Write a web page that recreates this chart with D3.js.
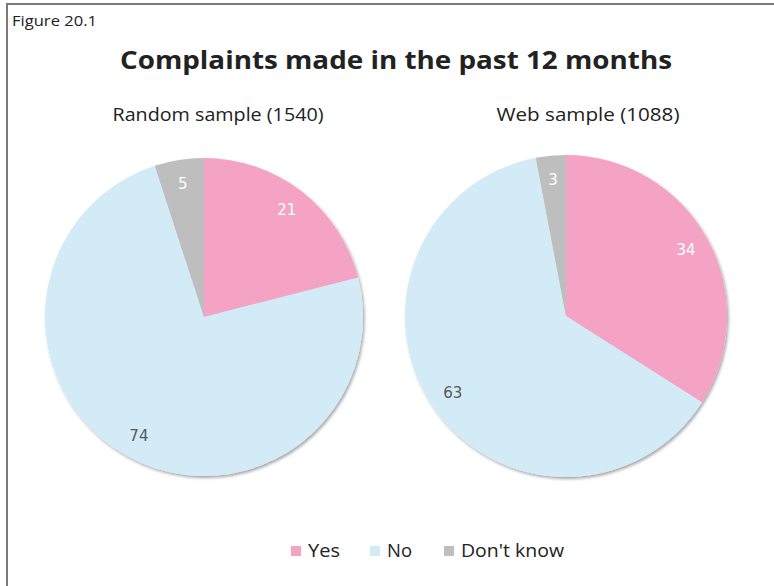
<!DOCTYPE html>
<html><head><meta charset="utf-8">
<script src="https://cdn.jsdelivr.net/npm/d3@7"></script>
<style>body{margin:0;background:#fff}svg{display:block}</style>
</head><body>
<script>
const categories = ["Yes", "No", "Don't know"];
const randomValues = [21, 74, 5];
const webValues = [34, 63, 3];
const sampleTitles = ["Random sample (1540)", "Web sample (1088)"];
const colors = ["#F4A3C5", "#D3EBF7", "#BEBEBE"];
const labelColors = ["#ffffff", "#595959", "#ffffff"];

const W = 774, H = 586;
const font = "'Open Sans', Lato, sans-serif";
const svg = d3.select("body").append("svg").attr("width", W).attr("height", H);

const defs = svg.append("defs");
const f = defs.append("filter").attr("id","sh").attr("x","-20%").attr("y","-20%").attr("width","140%").attr("height","140%");
f.append("feDropShadow").attr("dx",1.5).attr("dy",2).attr("stdDeviation",1.5).attr("flood-color","#000").attr("flood-opacity",0.35);

svg.append("rect").attr("x",7).attr("y",4).attr("width",W).attr("height",H)
  .attr("fill","#fff").attr("stroke","#7a7a7a").attr("stroke-width",2);

svg.append("text").attr("x",12).attr("y",26).attr("font-family",font).attr("font-size",15)
  .attr("fill","#222").attr("textLength",85).attr("lengthAdjust","spacingAndGlyphs").text("Figure 20.1");
svg.append("text").attr("x",396).attr("y",69).attr("text-anchor","middle").attr("font-family",font)
  .attr("font-size",25).attr("font-weight","bold").attr("fill","#222")
  .attr("textLength",552).attr("lengthAdjust","spacingAndGlyphs").text("Complaints made in the past 12 months");

const pies = [
  {values: randomValues, title: sampleTitles[0], cx: 204, cy: 317, r: 159, tx: 218, tw: 211},
  {values: webValues, title: sampleTitles[1], cx: 566, cy: 316, r: 161, tx: 588, tw: 183}
];
const pie = d3.pie().sort(null).value(d => d);
pies.forEach(p => {
  svg.append("text").attr("x",p.tx).attr("y",121).attr("text-anchor","middle").attr("font-family",font)
    .attr("font-size",18).attr("fill","#222")
    .attr("textLength",p.tw).attr("lengthAdjust","spacingAndGlyphs").text(p.title);
  const g = svg.append("g").attr("transform",`translate(${p.cx},${p.cy})`);
  const arcs = pie(p.values);
  const arc = d3.arc().innerRadius(0).outerRadius(p.r);
  const lab = d3.arc().innerRadius(p.r*0.85).outerRadius(p.r*0.85);
  g.append("g").attr("filter","url(#sh)").selectAll("path").data(arcs).join("path")
    .attr("d",arc).attr("fill",(d,i)=>colors[i]);
  g.selectAll("text").data(arcs).join("text")
    .attr("transform",d=>`translate(${lab.centroid(d)})`)
    .attr("text-anchor","middle").attr("dy","0.35em")
    .attr("font-family","'DejaVu Sans', Verdana, sans-serif").attr("font-size",15)
    .attr("fill",(d,i)=>labelColors[i]).text(d=>d.data);
});

const legend = svg.append("g");
const lx = [291, 370, 444];
const lw = [32, 25, 103];
categories.forEach((c,i)=>{
  legend.append("rect").attr("x",lx[i]).attr("y",546).attr("width",10).attr("height",10).attr("fill",colors[i]);
  legend.append("text").attr("x",lx[i]+17).attr("y",557).attr("font-family",font).attr("font-size",18)
    .attr("fill","#222").attr("textLength",lw[i]).attr("lengthAdjust","spacingAndGlyphs").text(c);
});
</script>
</body></html>
